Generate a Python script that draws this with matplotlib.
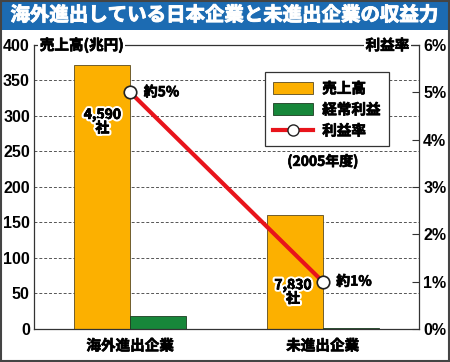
import matplotlib
matplotlib.use("Agg")
import matplotlib.pyplot as plt
import matplotlib.patheffects as pe
from matplotlib.patches import Rectangle
from matplotlib.lines import Line2D

plt.rcParams['font.family'] = ['Noto Sans CJK JP', 'DejaVu Sans']

categories = ['海外進出企業', '未進出企業']
sales = [372, 160]          # 売上高 (兆円)
profit = [18, 1.6]          # 経常利益 (兆円)
rate = [5.0, 1.0]           # 利益率 (%)
companies = ['4,590\n社', '7,830\n社']
rate_labels = ['約5%', '約1%']
left_ticks = [0, 50, 100, 150, 200, 250, 300, 350, 400]
right_ticks = [0, 1, 2, 3, 4, 5, 6]

orange = '#FCB000'
green = '#17873A'
red = '#E8141B'
num_font = ['Liberation Sans Narrow', 'Liberation Sans', 'DejaVu Sans']

# fake a heavier weight with a thin stroke of the same colour
bold = [pe.withStroke(linewidth=0.5, foreground='black')]
bold_w = [pe.withStroke(linewidth=0.7, foreground='white')]

fig = plt.figure(figsize=(4.5, 3.62), dpi=100)

# title bar
fig.patches.append(Rectangle((0, 0.917), 1, 0.083, transform=fig.transFigure,
                             facecolor='#1C6BB2', edgecolor='none', zorder=0))
fig.text(0.5, 0.958, '海外進出している日本企業と未進出企業の収益力', color='white',
         fontsize=14, fontweight='bold', ha='center', va='center', path_effects=bold_w)
fig.patches.append(Rectangle((0.002, 0.002), 0.996, 0.996, transform=fig.transFigure,
                             facecolor='none', edgecolor='#444444', lw=1.5, zorder=5))

ax = fig.add_axes([0.0756, 0.0912, 0.8556, 0.7845])
x = range(len(categories))
w = 0.29
ax.bar([i - w / 2 for i in x], sales, width=w, color=orange, edgecolor='#5a4a20',
       lw=0.6, zorder=2)
ax.bar([i + w / 2 for i in x], profit, width=w, color=green, edgecolor='#1d3d22',
       lw=0.6, zorder=2)
ax.set_xlim(-0.5, 1.5)
ax.set_ylim(0, 400)
ax.set_yticks(left_ticks)
ax.set_yticklabels([str(t) for t in left_ticks], family=num_font,
                   fontsize=11.5, fontweight='bold')
ax.tick_params(axis='y', length=0, pad=3)
ax.set_xticks(list(x))
ax.set_xticklabels(categories, fontsize=10.5, fontweight='bold')
for t in ax.get_xticklabels():
    t.set_path_effects(bold)
ax.tick_params(axis='x', length=0, pad=6)
ax.grid(axis='y', ls=(0, (3, 2)), color='#555555', lw=0.7, zorder=1)
for s in ax.spines.values():
    s.set_color('#333333')
    s.set_linewidth(0.9)

ax2 = ax.twinx()
ax2.set_ylim(0, 6)
ax2.plot(list(x), rate, color=red, lw=3, marker='o', ms=9, mfc='white',
         mec='#222222', mew=1.2, zorder=4)
ax2.set_yticks(right_ticks)
ax2.set_yticklabels([f'{t}%' for t in right_ticks], family=num_font,
                    fontsize=11.5, fontweight='bold')
ax2.tick_params(axis='y', direction='in', length=5, pad=3, color='#333333')
for s in ax2.spines.values():
    s.set_visible(False)

for i in x:
    ax2.text(i + 0.07, rate[i], rate_labels[i], fontsize=10, fontweight='bold',
             va='center', ha='left', path_effects=bold)
label_fx = [pe.withStroke(linewidth=3.5, foreground='white'),
            pe.Normal(), pe.withStroke(linewidth=0.5, foreground='black')]
ax.text(0 - w / 2, 292, companies[0], ha='center', va='center', fontsize=10,
        fontweight='bold', linespacing=0.95, path_effects=label_fx)
ax.text(1 - w / 2 - 0.01, 52, companies[1], ha='center', va='center', fontsize=10,
        fontweight='bold', linespacing=0.95, path_effects=label_fx)

ax.text(0.015, 1.0, '売上高(兆円)', transform=ax.transAxes, fontsize=10.5,
        fontweight='bold', va='center', ha='left', path_effects=bold,
        bbox=dict(facecolor='white', edgecolor='none', pad=1))
ax.text(0.975, 1.0, '利益率', transform=ax.transAxes, fontsize=10.5,
        fontweight='bold', va='center', ha='right', path_effects=bold,
        bbox=dict(facecolor='white', edgecolor='none', pad=1))

handles = [Rectangle((0, 0), 1, 1, facecolor=orange, edgecolor='#5a4a20', lw=0.6),
           Rectangle((0, 0), 1, 1, facecolor=green, edgecolor='#1d3d22', lw=0.6),
           Line2D([], [], color=red, lw=3, marker='o', ms=8, mfc='white', mec='#222222')]
leg = ax.legend(handles, ['売上高', '経常利益', '利益率'], loc='upper left',
                bbox_to_anchor=(0.58, 0.93), fancybox=False, framealpha=1,
                edgecolor='#333333', prop=dict(size=10.5, weight='bold'),
                handlelength=2.8, handleheight=0.9, labelspacing=0.35,
                borderpad=0.55, handletextpad=0.6)
for t in leg.get_texts():
    t.set_path_effects(bold)
leg.set_zorder(6)
leg.get_frame().set_linewidth(0.9)
ax.text(0.75, 0.59, '(2005年度)', transform=ax.transAxes, fontsize=10,
        fontweight='bold', ha='center', va='center', zorder=6, path_effects=bold)

fig.savefig('out.png', dpi=100)
